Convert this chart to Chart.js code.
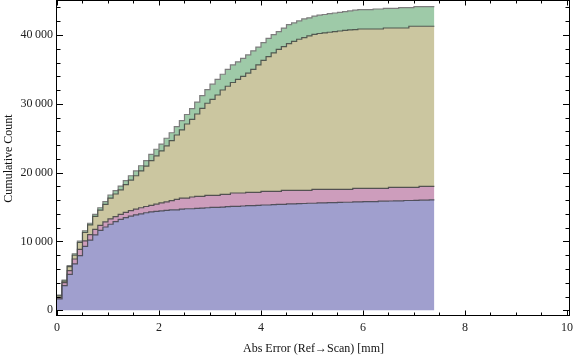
<!DOCTYPE html>
<html><head><meta charset="utf-8">
<script src="https://cdn.jsdelivr.net/npm/chart.js@4.4.1/dist/chart.umd.min.js"></script>
<style>html,body{margin:0;padding:0;background:#fff;}#wrap{width:576px;height:357px;position:relative;}</style>
</head><body><div id="wrap"><canvas id="c" width="576" height="357"></canvas></div>
<script>
const xTitle = 'Abs Error (Ref\u2192Scan) [mm]';
const yTitle = 'Cumulative Count';
const binWidth = 0.1;

// stacked cumulative counts (top of each layer), one value per 0.1 mm bin
const blueTop = [1650, 3580, 5230, 6730, 7950, 9300, 10200, 10950, 11600, 12100,
 12500, 12880, 13200, 13450, 13680, 13850, 14020, 14170, 14290, 14380,
 14450, 14520, 14600, 14600, 14700, 14750, 14750, 14820, 14850, 14900,
 14950, 14950, 15000, 15050, 15100, 15100, 15150, 15200, 15200, 15250,
 15300, 15300, 15350, 15400, 15400, 15450, 15450, 15500, 15520, 15550,
 15550, 15600, 15600, 15650, 15650, 15680, 15700, 15700, 15750, 15750,
 15780, 15800, 15800, 15850, 15850, 15880, 15900, 15900, 15950, 15950,
 15980, 16000, 16000, 16050];
const pinkTop = [1850, 4010, 5750, 7450, 8860, 10100, 11000, 11750, 12350, 12850,
 13270, 13600, 13950, 14240, 14480, 14700, 14900, 15080, 15250, 15420,
 15600, 15760, 15920, 16130, 16310, 16310, 16460, 16550, 16550, 16700,
 16700, 16700, 16840, 16840, 17040, 17040, 17040, 17130, 17130, 17130,
 17280, 17280, 17280, 17280, 17420, 17420, 17420, 17420, 17420, 17420,
 17570, 17570, 17570, 17570, 17570, 17570, 17570, 17570, 17710, 17710,
 17710, 17710, 17710, 17710, 17710, 17860, 17860, 17860, 17860, 17860,
 17860, 18000, 18000, 18000];
const tanTop = [2100, 4250, 6350, 8000, 9850, 11300, 12400, 13650, 14550, 15400,
 16300, 16900, 17500, 18250, 18900, 19550, 20250, 20950, 21750, 22450,
 23150, 23900, 24650, 25470, 26200, 27070, 27750, 28520, 29350, 30080,
 30660, 31280, 32010, 32550, 33100, 33550, 34000, 34450, 35000, 35650,
 36300, 36850, 37400, 37900, 38300, 38750, 39080, 39380, 39620, 39860,
 40080, 40220, 40300, 40400, 40490, 40580, 40660, 40730, 40780, 40870,
 40870, 40870, 40870, 40870, 41020, 41020, 41020, 41020, 41020, 41270,
 41270, 41270, 41270, 41270];
const greenTop = [2200, 4400, 6500, 8200, 10050, 11550, 12650, 13950, 14900, 15800,
 16750, 17400, 18050, 18850, 19550, 20250, 21000, 21750, 22650, 23400,
 24150, 25000, 25800, 26700, 27550, 28450, 29300, 30250, 31200, 32050,
 32850, 33550, 34300, 35000, 35650, 36100, 36600, 37100, 37700, 38250,
 38900, 39500, 40050, 40500, 41000, 41500, 41750, 42050, 42330, 42500,
 42750, 42880, 42980, 43100, 43200, 43300, 43400, 43500, 43600, 43680,
 43680, 43680, 43780, 43780, 43880, 43880, 43880, 43970, 43970, 43970,
 44120, 44120, 44120, 44120];

const xMajorTicks = [0, 2, 4, 6, 8, 10];
const xMinorTicks = [0.5, 1, 1.5, 2.5, 3, 3.5, 4.5, 5, 5.5, 6.5, 7, 7.5, 8.5, 9, 9.5];
const yMajorTicks = [0, 10000, 20000, 30000, 40000];
const yMinorTicks = [2000, 4000, 6000, 8000, 12000, 14000, 16000, 18000, 22000, 24000, 26000, 28000,
 32000, 34000, 36000, 38000, 42000, 44000];

function toPoints(tops) {
  const pts = tops.map((v, i) => ({x: +(i * binWidth).toFixed(2), y: v}));
  pts.push({x: +(tops.length * binWidth).toFixed(2), y: tops[tops.length - 1]});
  return pts;
}
function fmt(v) { return String(v).replace(/\B(?=(\d{3})+(?!\d))/g, '\u2009'); }

const framePlugin = {
  id: 'frame',
  afterDatasetsDraw(chart) {
    const {ctx, chartArea: a, scales: {x, y}} = chart;
    const L = a.left - 0.5, R = a.right - 0.5, T = a.top - 0.5, B = a.bottom - 0.5;
    ctx.save();
    ctx.strokeStyle = '#000';
    ctx.lineWidth = 1;
    ctx.strokeRect(L, T, R - L, B - T);
    ctx.beginPath();
    const xt = (v, len) => {
      const p = Math.round(x.getPixelForValue(v)) + 0.5;
      ctx.moveTo(p, B); ctx.lineTo(p, B - len);
      ctx.moveTo(p, T); ctx.lineTo(p, T + len);
    };
    const yt = (v, len) => {
      const p = Math.round(y.getPixelForValue(v)) + 0.5;
      ctx.moveTo(L, p); ctx.lineTo(L + len, p);
      ctx.moveTo(R, p); ctx.lineTo(R - len, p);
    };
    xMajorTicks.forEach(v => xt(v, 5));
    xMinorTicks.forEach(v => xt(v, 3));
    yMajorTicks.forEach(v => yt(v, 6.5));
    yMinorTicks.forEach(v => yt(v, 4));
    ctx.stroke();
    ctx.restore();
  }
};

Chart.defaults.font.family = "'Liberation Serif', 'DejaVu Serif', serif";
Chart.defaults.font.size = 12;
Chart.defaults.color = '#222';

new Chart(document.getElementById('c'), {
  type: 'line',
  data: {
    datasets: [
      {data: toPoints(blueTop), backgroundColor: 'rgb(160,159,206)', borderColor: 'rgba(70,70,80,0.9)', fill: 'origin'},
      {data: toPoints(pinkTop), backgroundColor: 'rgb(205,157,188)', borderColor: 'rgba(70,70,70,0.9)', fill: '-1'},
      {data: toPoints(tanTop), backgroundColor: 'rgb(203,198,160)', borderColor: 'rgba(70,75,70,0.9)', fill: '-1'},
      {data: toPoints(greenTop), backgroundColor: 'rgb(158,202,168)', borderColor: 'rgba(125,125,125,1)', fill: '-1'}
    ]
  },
  options: {
    responsive: false,
    animation: false,
    layout: {padding: {top: 1, right: 6, bottom: 0, left: 0}},
    elements: {line: {stepped: 'before', borderWidth: 1.2, tension: 0}, point: {radius: 0, hitRadius: 0}},
    plugins: {legend: {display: false}, tooltip: {enabled: false}},
    scales: {
      x: {
        type: 'linear', min: 0, max: 10.06,
        grid: {display: false, drawTicks: false, tickLength: 0},
        border: {display: false},
        ticks: {padding: 5, maxRotation: 0, autoSkip: false, callback: v => String(v)},
        afterBuildTicks: s => { s.ticks = xMajorTicks.map(v => ({value: v})); },
        afterFit: s => { s.height = 41; s.paddingLeft = 0; s.paddingRight = 0; },
        title: {display: true, text: xTitle, color: '#111', padding: {top: 0, bottom: 1}}
      },
      y: {
        type: 'linear', min: -830, max: 44940,
        grid: {display: false, drawTicks: false, tickLength: 0},
        border: {display: false},
        ticks: {padding: 4, autoSkip: false, callback: v => fmt(v)},
        afterBuildTicks: s => { s.ticks = yMajorTicks.map(v => ({value: v})); },
        afterFit: s => { s.width = 57; s.paddingTop = 0; s.paddingBottom = 0; },
        title: {display: true, text: yTitle, color: '#111', padding: {top: 2, bottom: 0}}
      }
    }
  },
  plugins: [framePlugin]
});
</script></body></html>
